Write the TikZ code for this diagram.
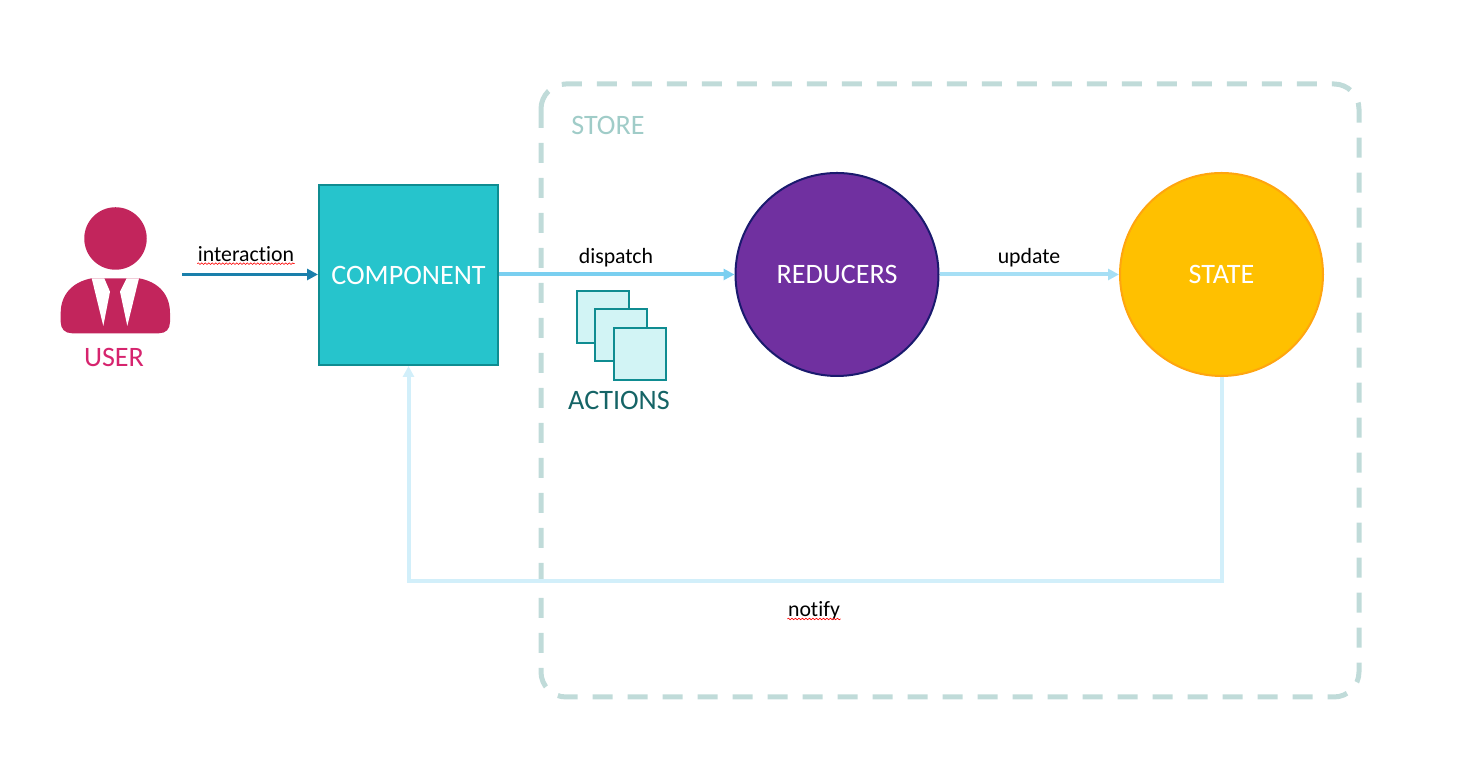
\documentclass[tikz,border=0pt]{standalone}
\usepackage{fontspec}
\setmainfont[Ligatures=NoCommon]{Carlito}
\usetikzlibrary{arrows.meta}
\usetikzlibrary{decorations.pathmorphing}

\definecolor{usercol}{HTML}{C2255C}
\definecolor{usertext}{HTML}{D6246E}
\definecolor{compfill}{HTML}{26C4CC}
\definecolor{compline}{HTML}{0F8C91}
\definecolor{actfill}{HTML}{D2F4F5}
\definecolor{acttext}{HTML}{156466}
\definecolor{redfill}{HTML}{7030A0}
\definecolor{redline}{HTML}{1A1A6E}
\definecolor{statefill}{HTML}{FFC000}
\definecolor{stateline}{HTML}{FFA50F}
\definecolor{storeline}{HTML}{C0DBD9}
\definecolor{storetext}{HTML}{A0CCC8}
\definecolor{interactcol}{HTML}{1A7FAB}
\definecolor{dispatchcol}{HTML}{7ACFF0}
\definecolor{updatecol}{HTML}{A6DFF5}
\definecolor{notifycol}{HTML}{D2EFFA}

\tikzset{
	every node/.style={font=\fontsize{8}{9.6}\selectfont,inner sep=0pt},
	bigcircle/.style={circle,draw,line width=0.02cm,minimum size=2.03cm,text=white},
	actionbox/.style={rectangle,draw=compline,fill=actfill,line width=0.02cm,minimum size=0.52cm},
	smalllabel/.style={anchor=base,font=\fontsize{6.2}{7.4}\selectfont},
	biglabel/.style={anchor=base},
	flow/.style={-{Triangle[length=0.11cm,width=0.11cm]}},
	squiggle/.style={red,line width=0.006cm,decorate,decoration={snake,segment length=0.035cm,amplitude=0.008cm}}
}

\begin{document}
\begin{tikzpicture}
	\useasboundingbox (0,0) rectangle (14.8,7.6);

	% store border, clockwise from the top of the left side
	\draw[storeline,line width=0.05cm,dash pattern=on 0.2cm off 0.15cm] (5.41,6.51) arc[start angle=180,end angle=90,radius=0.25] -- (13.34,6.76) arc[start angle=90,end angle=0,radius=0.25] -- (13.59,0.88) arc[start angle=0,end angle=-90,radius=0.25] -- (5.66,0.63) arc[start angle=270,end angle=180,radius=0.25] -- cycle;
	\node[biglabel,text=storetext](storelabel) at (6.08,6.25) {STORE};

	% user icon
	\node[circle,fill=usercol,minimum size=0.625cm](userhead) at (1.155,5.215) {};
	\fill[usercol] (.917,4.817) .. controls (.72,4.78) and (.607,4.65) .. (.607,4.47) -- (.607,4.38) .. controls (.607,4.31) and (.65,4.267) .. (.72,4.267) -- (1.59,4.267) .. controls (1.66,4.267) and (1.70,4.31) .. (1.70,4.38) -- (1.70,4.47) .. controls (1.70,4.65) and (1.59,4.78) .. (1.39,4.817) -- cycle;
	\fill[white] (.917,4.817) -- (1.043,4.817) -- (1.10,4.683) -- (1.033,4.34) -- cycle;
	\fill[white] (1.267,4.817) -- (1.39,4.817) -- (1.273,4.34) -- (1.20,4.683) -- cycle;
	\node[biglabel,text=usertext](user) at (1.14,3.93) {USER};

	\node[rectangle,draw=compline,fill=compfill,line width=0.02cm,minimum width=1.79cm,minimum height=1.80cm,text=white](comp) at (4.085,4.85) {COMPONENT};
	\node[bigcircle,draw=redline,fill=redfill](reducers) at (8.37,4.855) {REDUCERS};
	\node[bigcircle,draw=stateline,fill=statefill](state) at (12.215,4.855) {STATE};

	\node[actionbox](act1) at (6.025,4.43) {};
	\node[actionbox](act2) at (6.21,4.245) {};
	\node[actionbox](act3) at (6.40,4.055) {};
	\node[biglabel,text=acttext](actions) at (6.19,3.50) {ACTIONS};

	\coordinate (userout) at (1.82,4.855);
	\coordinate (notifyturn) at (4.085,1.785);

	\draw[flow,interactcol,line width=0.035cm] (userout) -- (comp.west |- userout);
	\draw[flow,dispatchcol,line width=0.04cm] (comp.east |- reducers) -- (reducers.west);
	\draw[flow,updatecol,line width=0.04cm] (reducers.east) -- (state.west);
	\draw[flow,notifycol,line width=0.04cm] (state.south) |- (notifyturn) -- (comp.south);

	\node[smalllabel](interaction) at (2.46,4.98) {interaction};
	\node[smalllabel](dispatch) at (6.16,4.96) {dispatch};
	\node[smalllabel](update) at (10.29,4.96) {update};
	\node[smalllabel](notify) at (8.14,1.43) {notify};

	\draw[squiggle] ([yshift=-0.017cm]interaction.base west) -- ([yshift=-0.017cm]interaction.base east);
	\draw[squiggle] ([yshift=-0.02cm]notify.base west) -- ([yshift=-0.02cm]notify.base east);
\end{tikzpicture}
\end{document}
